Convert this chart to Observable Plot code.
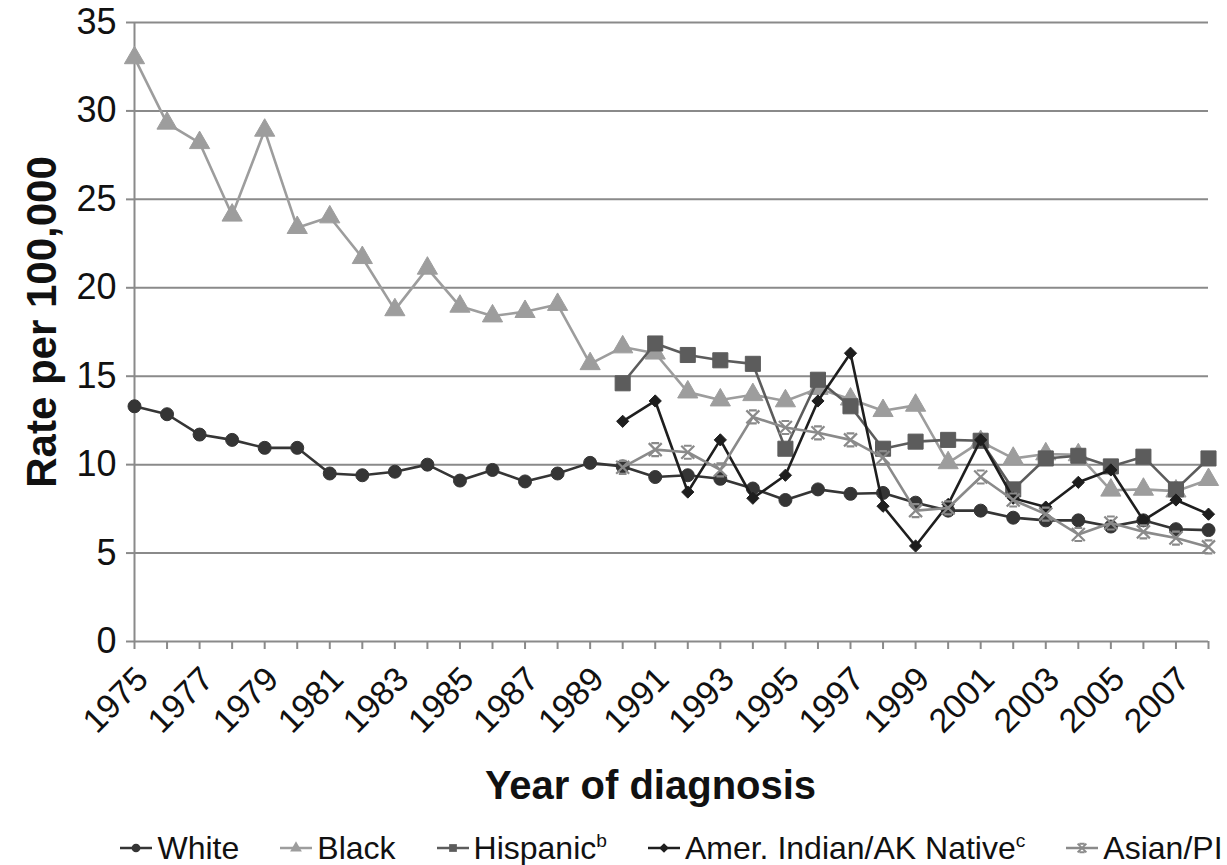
<!DOCTYPE html>
<html><head><meta charset="utf-8">
<script src="https://cdn.jsdelivr.net/npm/d3@7"></script>
<script src="https://cdn.jsdelivr.net/npm/@observablehq/plot@0.6"></script>
<style>
body{margin:0;background:#fff;font-family:"Liberation Sans",Arial,sans-serif;}
#legend{display:flex;justify-content:center;align-items:center;gap:40px;padding-left:134px;padding-right:19px;padding-top:8px;font-size:32px;color:#111;height:40px;}
.item{display:flex;align-items:center;gap:4px;white-space:nowrap}
sup{font-size:0.6em;vertical-align:super;line-height:0}
</style></head><body><div id="chart"></div><div id="legend"></div>
<script>
const yearsAll=[1975,1976,1977,1978,1979,1980,1981,1982,1983,1984,1985,1986,1987,1988,1989,1990,1991,1992,1993,1994,1995,1996,1997,1998,1999,2000,2001,2002,2003,2004,2005,2006,2007,2008];
const yearsLate=[1990,1991,1992,1993,1994,1995,1996,1997,1998,1999,2000,2001,2002,2003,2004,2005,2006,2007,2008];
const labelYears=[1975,1977,1979,1981,1983,1985,1987,1989,1991,1993,1995,1997,1999,2001,2003,2005,2007];
const yTicks=[0,5,10,15,20,25,30,35];

const white=[13.3,12.85,11.7,11.4,10.95,10.95,9.5,9.4,9.6,10.0,9.1,9.7,9.05,9.5,10.1,9.9,9.3,9.4,9.2,8.65,8.0,8.6,8.35,8.4,7.85,7.4,7.4,7.0,6.85,6.85,6.5,6.85,6.35,6.3];
const black=[33.0,29.3,28.2,24.1,28.9,23.4,24.0,21.7,18.75,21.1,18.95,18.4,18.65,19.05,15.7,16.65,16.3,14.1,13.65,13.95,13.6,14.3,13.7,13.05,13.35,10.1,11.3,10.35,10.6,10.55,8.55,8.6,8.5,9.15];
const hispanic=[14.6,16.85,16.2,15.9,15.7,10.9,14.8,13.3,10.9,11.3,11.4,11.35,8.6,10.35,10.5,9.9,10.45,8.6,10.35];
const aian=[12.45,13.6,8.45,11.4,8.1,9.4,13.6,16.3,7.65,5.4,7.75,11.4,8.1,7.6,9.0,9.7,6.85,8.0,7.2];
const asian=[9.85,10.85,10.7,9.7,12.7,12.1,11.8,11.4,10.4,7.4,7.55,9.3,8.0,7.2,6.05,6.7,6.2,5.85,5.35];

const seriesNames=["White","Black","Hispanic","Amer. Indian/AK Native","Asian/PI"];
const seriesSup=["","","b","c",""];
const seriesColors=["#353535","#9d9d9d","#5c5c5c","#1e1e1e","#8a8a8a"];

const excelStar={draw(ctx,size){const r=Math.sqrt(size/Math.PI);
  ctx.moveTo(-r,-r);ctx.lineTo(r,r);ctx.moveTo(r,-r);ctx.lineTo(-r,r);
  ctx.moveTo(-r*0.6,-r);ctx.lineTo(r*0.6,-r);ctx.moveTo(-r*0.6,r);ctx.lineTo(r*0.6,r);}};

const seriesYears=[yearsAll,yearsAll,yearsLate,yearsLate,yearsLate];
const seriesVals=[white,black,hispanic,aian,asian];
const symbols=["circle","triangle","square","diamond2",excelStar];
const radii=[6.5,7.5,8.5,5.5,6.5];
const filled=[true,true,true,true,false];

const series=seriesNames.map((name,i)=>seriesYears[i].map((year,j)=>({name,year,value:seriesVals[i][j]})));

const marks=[
  Plot.ruleY(yTicks,{stroke:"#8a8a8a",strokeWidth:2}),
  Plot.ruleX([1975],{y1:0,y2:35,stroke:"#8a8a8a",strokeWidth:2}),
  Plot.axisY({ticks:yTicks,tickSize:8,tickPadding:10,fontSize:36,stroke:"#8a8a8a",strokeWidth:2,fill:"#111",label:null}),
  Plot.axisX({ticks:yearsAll,tickSize:8,tickFormat:()=>"",stroke:"#8a8a8a",strokeWidth:2,label:null}),
  Plot.axisX({ticks:labelYears,tickSize:0,tickPadding:20,dx:8,dy:12,tickRotate:-45,fontSize:34,fill:"#111",tickFormat:d=>String(d),label:null}),
  Plot.text(["Year of diagnosis"],{frameAnchor:"bottom",dx:-21,dy:157,fontSize:40,fontWeight:"bold",fill:"#111"}),
  Plot.text(["Rate per 100,000"],{frameAnchor:"left",textAnchor:"middle",rotate:-90,dx:-92,dy:-10,fontSize:42,fontWeight:"bold",fill:"#111"})
];
series.forEach((rows,i)=>{
  marks.push(Plot.line(rows,{x:"year",y:"value",stroke:seriesColors[i],strokeWidth:2.6}));
  marks.push(Plot.dot(rows,{x:"year",y:"value",symbol:symbols[i],r:radii[i],
    fill:filled[i]?seriesColors[i]:"none",stroke:seriesColors[i],strokeWidth:filled[i]?1:2.2}));
});

const chart=Plot.plot({
  width:1227,height:820,
  marginLeft:134,marginRight:19,marginTop:22,marginBottom:179,
  style:{fontFamily:"'Liberation Sans',Arial,sans-serif",background:"#fff",overflow:"visible"},
  x:{type:"linear",domain:[1975,2008]},
  y:{domain:[0,35]},
  marks
});
document.getElementById("chart").appendChild(chart);

const legend=document.getElementById("legend");
seriesNames.forEach((name,i)=>{
  const item=document.createElement("div");item.className="item";
  const sw=d3.create("svg").attr("width",34).attr("height",20);
  sw.append("line").attr("x1",1).attr("x2",33).attr("y1",10).attr("y2",10).attr("stroke",seriesColors[i]).attr("stroke-width",2.5);
  const symObj=typeof symbols[i]==="string"?({circle:d3.symbolCircle,triangle:d3.symbolTriangle,square:d3.symbolSquare,diamond2:d3.symbolDiamond2})[symbols[i]]:symbols[i];
  sw.append("path").attr("transform","translate(17,10)").attr("d",d3.symbol(symObj,60)())
    .attr("fill",filled[i]?seriesColors[i]:"none").attr("stroke",seriesColors[i]).attr("stroke-width",filled[i]?0:2);
  item.appendChild(sw.node());
  const t=document.createElement("span");t.textContent=name;
  if(seriesSup[i]){const s=document.createElement("sup");s.textContent=seriesSup[i];t.appendChild(s);}
  item.appendChild(t);legend.appendChild(item);
});
</script></body></html>
